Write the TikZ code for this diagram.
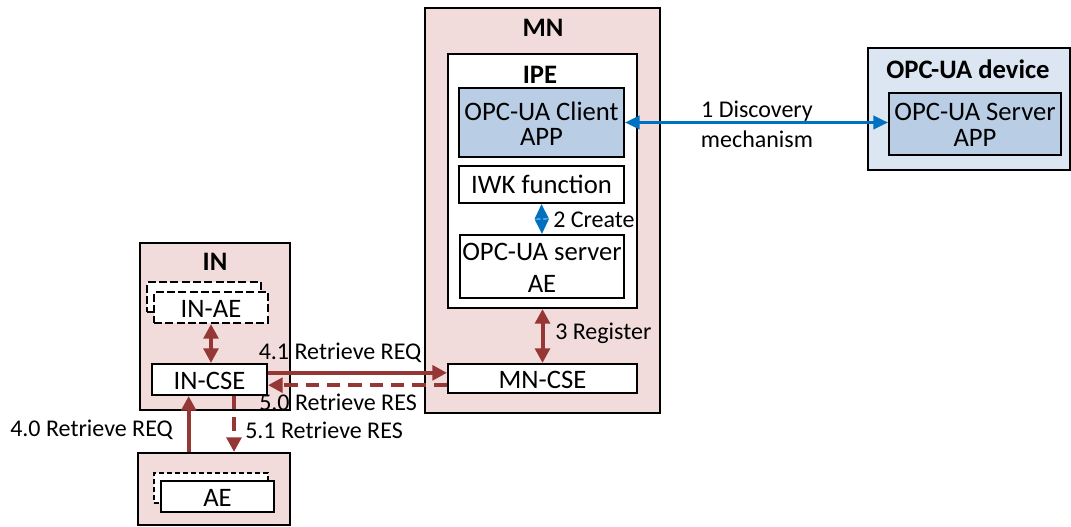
\documentclass[tikz,border=0pt]{standalone}
\usepackage{fontspec}
\setmainfont{Carlito}
\usepackage{xcolor}
\usetikzlibrary{positioning,fit,arrows.meta}

\definecolor{nodepink}{HTML}{F2DCDB}
\definecolor{devblue}{HTML}{DCE6F2}
\definecolor{appblue}{HTML}{B9CDE5}
\definecolor{msgred}{HTML}{953735}
\definecolor{linkblue}{HTML}{0070C0}

\tikzset{
	box/.style={draw=black, line width=1.5pt, inner sep=0pt},
	nodebox/.style={box, fill=nodepink},
	appbox/.style={box, fill=appblue},
	whitebox/.style={box, fill=white},
	aebox/.style={box, fill=white, dash pattern=on 6pt off 2.5pt},
	txt/.style={inner sep=0pt, align=center, font=\fontsize{20}{24}\selectfont},
	head/.style={font=\bfseries\fontsize{20}{24}\selectfont},
	lbl/.style={inner sep=0pt, align=center, font=\fontsize{18}{22}\selectfont},
	redlink/.style={draw=msgred, line width=3pt, >={Triangle[length=11pt,width=11pt]}},
	bluelink/.style={draw=linkblue, line width=2.2pt, >={Triangle[length=11pt,width=10pt]}},
	reslink/.style={redlink, dash pattern=on 10pt off 6pt}
}

\begin{document}
\begin{tikzpicture}[x=0.75pt,y=-0.75pt]
	\useasboundingbox (0,0) rectangle (1071,527);

	% MN with the IPE
	\node[nodebox, fit={(425,8) (660,413)}] (mn) {};
	\node[head] (mnlbl) at (543,28) {MN};
	\node[whitebox, fit={(448,54) (637,308)}] (ipe) {};
	\node[head] (ipelbl) at (540,75) {IPE};
	\node[appbox, fit={(459,88) (624,157)}] (client) {};
	\node[txt, font=\fontsize{20}{19}\selectfont] (clienttxt) at ([yshift=-1pt]client.center) {OPC-UA Client\\APP};
	\node[whitebox, fit={(459,166) (624,203)}] (iwk) {};
	\node[txt] (iwktxt) at (iwk.center) {IWK function};
	\node[whitebox, fit={(460,235) (624,298)}] (uaae) {};
	\node[txt] (uaaetxt) at ([yshift=-1pt]uaae.center) {OPC-UA server\\AE};
	\node[whitebox, fit={(448,364) (637,393)}] (mncse) {};
	\node[txt] (mncsetxt) at ([yshift=-1pt]mncse.center) {MN-CSE};

	% OPC-UA device
	\node[box, fill=devblue, fit={(868,48) (1070,170)}] (device) {};
	\node[head] (devlbl) at (968,69) {OPC-UA device};
	\node[appbox, fit={(889,93) (1061,155)}] (server) {};
	\node[txt, font=\fontsize{20}{19.5}\selectfont] (servertxt) at ([yshift=-1pt]server.center) {OPC-UA Server\\APP};

	% IN
	\node[nodebox, fit={(140,243) (290,410)}] (in) {};
	\node[head] (inlbl) at (215,262) {IN};
	\node[aebox, fit={(147,282) (261,312)}] (inaeback) {};
	\node[aebox, fit={(154,292) (268,323)}] (inae) {};
	\node[txt] (inaetxt) at ([yshift=-1pt]inae.center) {IN-AE};
	\node[whitebox, fit={(152,364) (267,395)}] (incse) {};
	\node[txt] (incsetxt) at ([yshift=-1pt]incse.center) {IN-CSE};

	% ADN with AE
	\node[nodebox, fit={(138,453) (290,525)}] (adn) {};
	\node[whitebox, line width=1pt, dash pattern=on 4pt off 2pt, fit={(154,473) (268,503)}] (aeback) {};
	\node[whitebox, fit={(161,481) (274,512)}] (ae) {};
	\node[txt] (aetxt) at ([yshift=-1pt]ae.center) {AE};

	% links
	\draw[bluelink, <->] (client.east) -- (client.east -| server.west);
	\node[lbl, font=\fontsize{18}{22.5}\selectfont] (disc) at (757,124) {1 Discovery\\mechanism};
	\draw[bluelink, <->] (iwk.south) -- (uaae.north);
	\node[lbl, anchor=west] (create) at (553,220) {2 Create};
	\draw[redlink, <->] (ipe.south) -- (mncse.north);
	\node[lbl, anchor=west] (register) at (555,333) {3 Register};
	\draw[redlink, <->] (inae.south) -- (inae.south |- incse.north);

	\draw[redlink, ->] ([yshift=5pt]incse.east) -- ([yshift=5pt]incse.east -| mncse.west);
	\node[lbl] (req41) at (340,353) {4.1 Retrieve REQ};
	\draw[reslink, ->] ([yshift=-5pt]mncse.west) -- ([yshift=-5pt]mncse.west -| incse.east);
	\node[lbl] (res50) at (338,402) {5.0 Retrieve RES};

	\draw[redlink, ->] ([xshift=-19pt]adn.north) -- ([xshift=-19pt]adn.north |- incse.south);
	\node[lbl, anchor=east] (req40) at (173,430) {4.0 Retrieve REQ};
	\draw[reslink, ->] ([xshift=15pt]adn.north |- incse.south) -- ([xshift=15pt]adn.north);
	\node[lbl, anchor=west] (res51) at (245,430) {5.1 Retrieve RES};
\end{tikzpicture}
\end{document}
